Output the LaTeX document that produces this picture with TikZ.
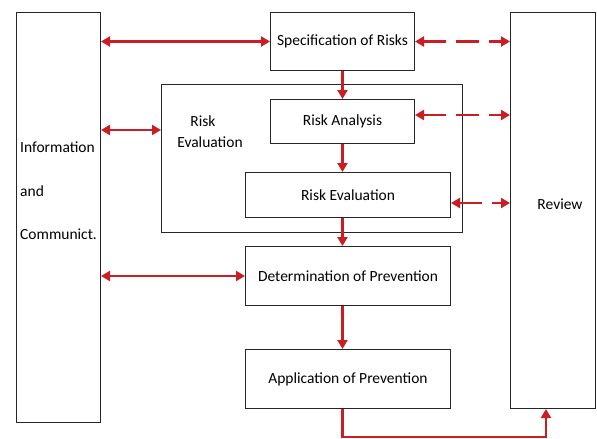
\documentclass[tikz,border=0pt]{standalone}
\usepackage{fontspec}
\setmainfont{Carlito}
\usetikzlibrary{arrows.meta}
\definecolor{arrowred}{RGB}{200,30,36}
\begin{document}
\begin{tikzpicture}[x=1pt,y=-1pt,
  box/.style={draw=black!85,line width=1pt,inner sep=0pt,anchor=north west,font=\fontsize{15.5}{17}\selectfont},
  lbl/.style={inner sep=0pt,font=\fontsize{15.5}{17}\selectfont},
  biarrow/.style={draw=arrowred,line width=2.6pt,{Triangle[length=9pt,width=10pt]}-{Triangle[length=9pt,width=10pt]}},
  dasharrow/.style={biarrow,dash pattern=on 23pt off 10pt},
  onearrow/.style={draw=arrowred,line width=2.6pt,-{Triangle[length=9pt,width=10pt]}}]
\useasboundingbox[fill=white] (0,0) rectangle (597,439);
% boxes
\node[box,minimum width=84pt,minimum height=410pt] (info) at (16,12) {};
\node[box,minimum width=144pt,minimum height=58pt] (spec) at (270,12) {Specification of Risks};
\node[box,minimum width=301pt,minimum height=148pt] (cont) at (161,84) {};
\node[box,minimum width=144pt,minimum height=44pt] (ana) at (270,99) {Risk Analysis};
\node[box,minimum width=205pt,minimum height=45pt] (eval) at (245,172) {Risk Evaluation};
\node[box,minimum width=205pt,minimum height=59pt] (det) at (245,246) {Determination of Prevention};
\node[box,minimum width=205pt,minimum height=59pt] (app) at (245,349) {Application of Prevention};
\node[box,minimum width=85pt,minimum height=396pt] (rev) at (510,12) {};
% texts
\node[lbl,anchor=west] (t1) at (20,147) {Information};
\node[lbl,anchor=west] (t2) at (20,191) {and};
\node[lbl,anchor=west] (t3) at (20,234) {Communict.};
\node[lbl] (c1) at (203,121) {Risk};
\node[lbl] (c2) at (210,142) {Evaluation};
\node[lbl] (r1) at (560,204) {Review};
% left arrows
\draw[biarrow] (info.east |- spec.west) -- (spec.west);
\draw[biarrow] (info.east |- 0,130) -- (cont.west |- 0,130);
\draw[biarrow] (info.east |- det.west) -- (det.west);
% dashed arrows to review
\draw[dasharrow] (spec.east) -- (rev.west |- spec.east);
\draw[dasharrow] (ana.east |- 0,115) -- (rev.west |- 0,115);
\draw[dasharrow] (eval.east |- 0,203) -- (rev.west |- 0,203);
% vertical flow
\draw[onearrow] (spec.south) -- (ana.north);
\draw[onearrow] (ana.south) -- (ana.south |- eval.north);
\draw[onearrow] (ana.south |- eval.south) -- (ana.south |- det.north);
\draw[onearrow] (ana.south |- det.south) -- (ana.south |- app.north);
\draw[onearrow] (ana.south |- app.south) -- ++(0,28) -| ([xshift=36pt]rev.south west);
\end{tikzpicture}
\end{document}
